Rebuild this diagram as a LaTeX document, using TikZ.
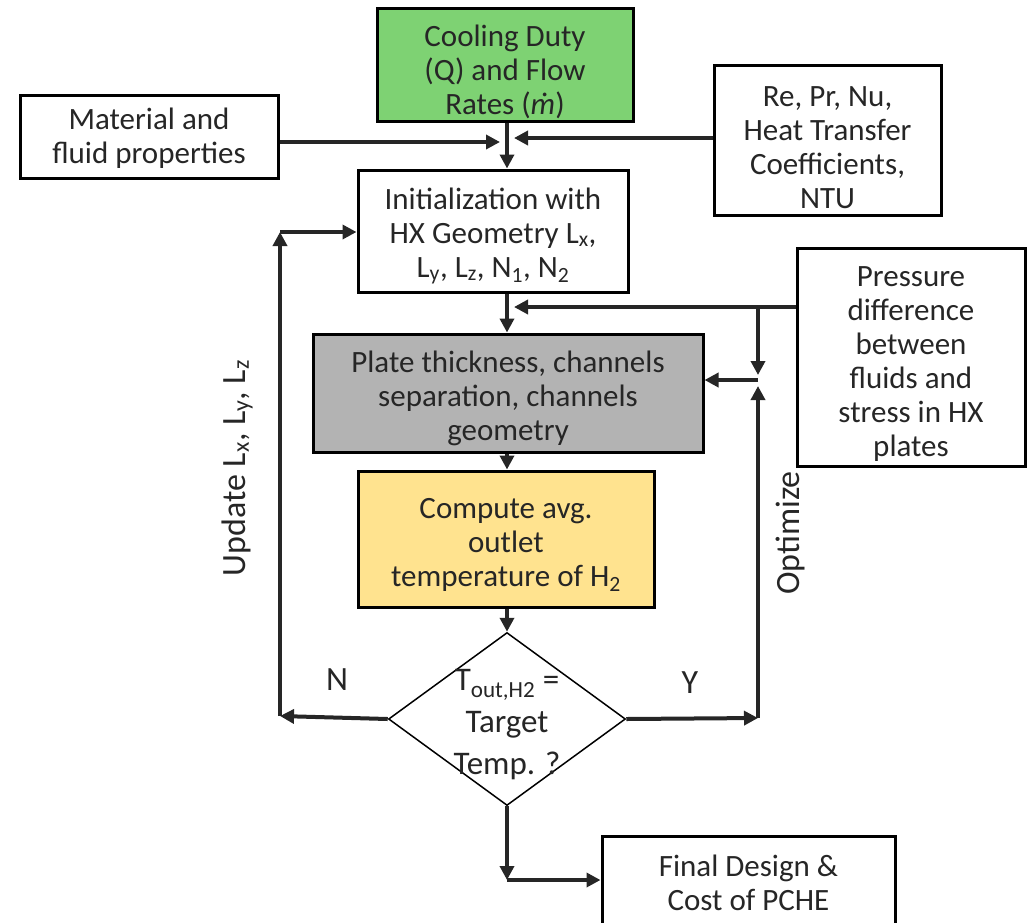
\documentclass[tikz,border=0pt]{standalone}
\usepackage{fontspec}
\setmainfont{Carlito}
\usetikzlibrary{arrows.meta,shapes.geometric,calc}
\definecolor{ink}{HTML}{262626}
\definecolor{boxgreen}{HTML}{7ED273}
\definecolor{boxgray}{HTML}{B3B3B3}
\definecolor{boxyellow}{HTML}{FFE38F}
\tikzset{
  blk/.style={draw=black, line width=3pt, inner sep=0pt},
  txt/.style={text=ink, align=center, inner sep=0pt, font=\fontsize{31}{34}\selectfont},
  arr/.style={draw=ink, line width=4pt, -{Triangle[length=14pt,width=14pt]}},
  lbl/.style={text=ink, inner sep=0pt, font=\fontsize{34}{40}\selectfont},
  dia/.style={draw=black, line width=1.5pt, diamond, inner sep=0pt, minimum width=237pt, minimum height=173pt}
}
\begin{document}
\begin{tikzpicture}[x=1pt,y=-1pt]
\useasboundingbox (0,0) rectangle (1033,922);
% boxes
\node[blk, fill=boxgreen, minimum width=256pt, minimum height=113pt] (green) at (505,64.5) {};
\node[txt] (greent) at (505,72) {Cooling Duty\\(Q) and Flow\\Rates (\textit{ṁ})};
\node[blk, minimum width=258pt, minimum height=83pt] (mat) at (149,136.5) {};
\node[txt] (matt) at (149,138) {Material and\\fluid properties};
\node[blk, minimum width=227pt, minimum height=150pt] (re) at (827.5,140) {};
\node[txt] (ret) at (827.5,148) {Re, Pr, Nu,\\Heat Transfer\\Coefficients,\\NTU};
\node[blk, minimum width=270pt, minimum height=122pt] (init) at (493,231) {};
\node[txt] (initt) at (493,236) {Initialization with\\HX Geometry L\textsubscript{x},\\L\textsubscript{y}, L\textsubscript{z}, N\textsubscript{1}, N\textsubscript{2}};
\node[blk, fill=boxgray, minimum width=390pt, minimum height=118pt] (gray) at (508,393) {};
\node[txt] (grayt) at (508,398) {Plate thickness, channels\\separation, channels\\geometry};
\node[blk, fill=boxyellow, minimum width=296pt, minimum height=136pt] (yel) at (506,539) {};
\node[txt] (yelt) at (506,545) {Compute avg.\\outlet\\temperature of H\textsubscript{2}};
\node[blk, minimum width=228pt, minimum height=218pt] (pr) at (911,357) {};
\node[txt] (prt) at (911,364) {Pressure\\difference\\between\\fluids and\\stress in HX\\plates};
\node[dia] (d) at (507,719) {};
\node[txt, font=\fontsize{33}{42}\selectfont] (dt) at (507,725) {T\textsubscript{out,H2} =\\Target\\Temp. ?};
\node[blk, minimum width=293pt, minimum height=96pt] (fin) at (748.5,884) {};
\node[txt] (fint) at (748.5,883) {Final Design \&\\Cost of PCHE};
% junction coordinates
\coordinate (cx) at (507,0);
\coordinate (jm) at (500,142);
\coordinate (jr) at (514,138);
\coordinate (jp) at (514,307);
\coordinate (b1) at (758,307);
\coordinate (b2) at (758,380);
\coordinate (b2e) at (758,375);
\coordinate (b2u) at (758,386);
\coordinate (ye) at (758,718);
\coordinate (nw) at (280,716);
\coordinate (nt) at (280,232);
\coordinate (bb) at (507,880);
% connectors
\draw[arr] (green.south-|cx) -- (init.north-|cx);
\draw[arr] (mat.east|-jm) -- (jm);
\draw[arr] (re.west|-jr) -- (jr);
\draw[arr] (init.south-|cx) -- (gray.north-|cx);
\draw[arr] (pr.west|-jp) -- (jp);
\draw[arr] (b1) -- (b2e);
\draw[arr] (b2) -- (gray.east|-b2);
\draw[arr] (gray.south-|cx) -- (yel.north-|cx);
\draw[arr] (yel.south-|cx) -- (d.north);
\draw[arr] (d.east) -- (ye);
\draw[arr] (ye) -- (b2u);
\draw[arr] (d.west) -- (nw);
\draw[arr] (nw) -- (nt);
\draw[arr] (nt) -- (init.west|-nt);
\draw[arr] (d.south) -- (bb);
\draw[arr] (bb) -- (fin.west|-bb);
% labels
\node[lbl] (nlab) at (337,680) {N};
\node[lbl] (ylab) at (690,683) {Y};
\node[lbl, rotate=90] (upd) at (237,468) {Update L\textsubscript{x}, L\textsubscript{y}, L\textsubscript{z}};
\node[lbl, rotate=90] (opt) at (790,533) {Optimize};
\end{tikzpicture}
\end{document}
